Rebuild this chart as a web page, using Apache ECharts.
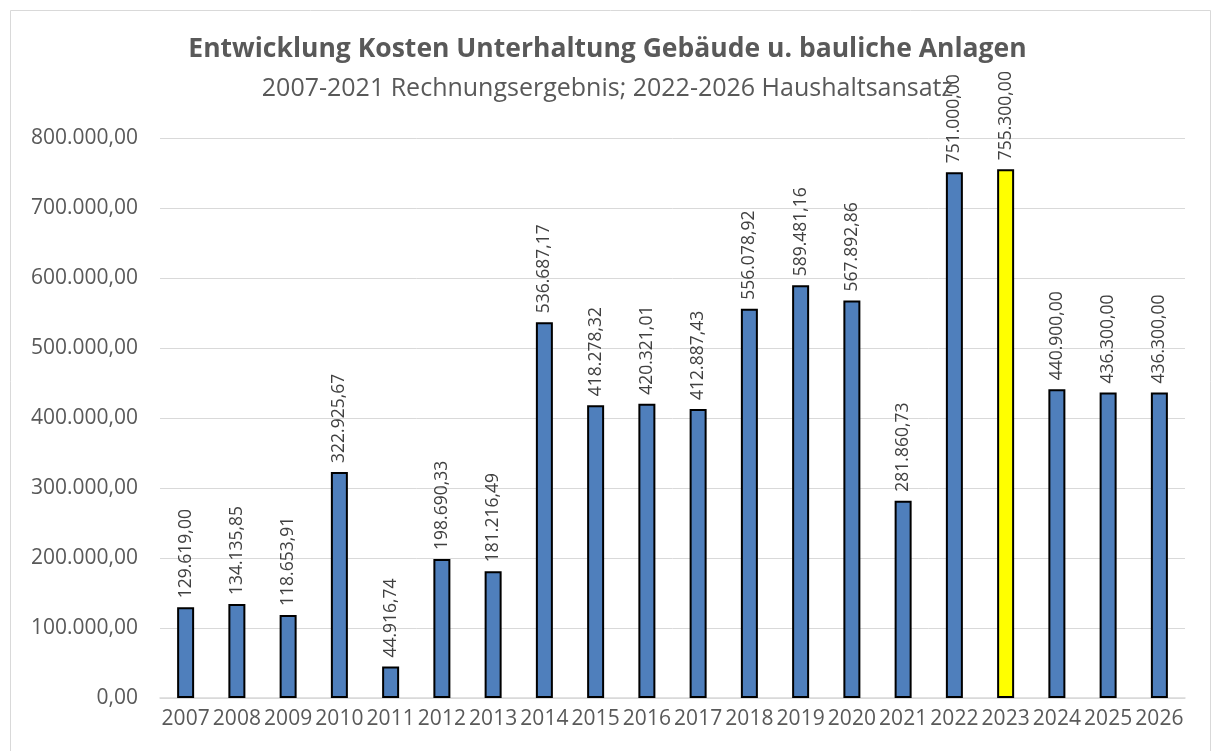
<!DOCTYPE html>
<html>
<head>
<meta charset="utf-8">
<script src="https://cdn.jsdelivr.net/npm/echarts@6/dist/echarts.min.js"></script>
<style>
  html, body { margin: 0; padding: 0; background: #fff; }
  #container { width: 1215px; height: 751px; }
</style>
</head>
<body>
<div id="container"></div>
<script>
var years = ['2007', '2008', '2009', '2010', '2011', '2012', '2013', '2014', '2015', '2016',
  '2017', '2018', '2019', '2020', '2021', '2022', '2023', '2024', '2025', '2026'];
var costs = [129619.00, 134135.85, 118653.91, 322925.67, 44916.74, 198690.33, 181216.49, 536687.17,
  418278.32, 420321.01, 412887.43, 556078.92, 589481.16, 567892.86, 281860.73, 751000.00,
  755300.00, 440900.00, 436300.00, 436300.00];
var highlightYear = '2023';

var dom = document.getElementById("container");
var myChart = echarts.init(dom);

// German number format: 129.619,00
function fmt(v) {
  var parts = v.toFixed(2).split('.');
  var intPart = parts[0].replace(/\B(?=(\d{3})+(?!\d))/g, '.');
  return intPart + ',' + parts[1];
}

var data = costs.map(function (v, i) {
  return {
    value: v,
    itemStyle: { color: years[i] === highlightYear ? '#ffff00' : '#4f7fbc' }
  };
});

var fontFam = '"Open Sans", "Noto Sans", sans-serif';

var option = {
  backgroundColor: '#fff',
  animation: false,
  title: [{
    text: 'Entwicklung Kosten Unterhaltung Gebäude u. bauliche Anlagen',
    left: 'center',
    top: 31,
    textStyle: { fontFamily: fontFam, fontSize: 26.5, fontWeight: 'bold', color: '#595959' }
  }, {
    text: '2007-2021 Rechnungsergebnis; 2022-2026 Haushaltsansatz',
    left: 'center',
    top: 71,
    textStyle: { fontFamily: fontFam, fontSize: 25, fontWeight: 'normal', color: '#595959' }
  }],
  graphic: [{
    type: 'rect',
    shape: { x: 10.5, y: 10.5, width: 1200, height: 745 },
    style: { fill: 'none', stroke: '#d9d9d9', lineWidth: 1 },
    z: -1
  }],
  grid: { left: 160, right: 30, top: 138, bottom: 53 },
  xAxis: {
    type: 'category',
    data: years,
    axisLine: { lineStyle: { color: '#d9d9d9', width: 1.5 } },
    axisTick: { show: false },
    axisLabel: { interval: 0, fontFamily: fontFam, fontSize: 21, color: '#595959', margin: 11 }
  },
  yAxis: {
    type: 'value',
    min: 0,
    max: 800000,
    interval: 100000,
    axisLine: { show: false },
    axisTick: { show: false },
    splitLine: { lineStyle: { color: '#d9d9d9', width: 1 } },
    axisLabel: {
      fontFamily: fontFam, fontSize: 21, color: '#595959', margin: 22,
      formatter: function (v) { return fmt(v); }
    }
  },
  series: [{
    type: 'bar',
    data: data,
    barWidth: 17,
    itemStyle: { borderColor: '#000', borderWidth: 2 },
    label: {
      show: true,
      position: 'top',
      rotate: 90,
      align: 'left',
      verticalAlign: 'middle',
      distance: 9,
      fontFamily: fontFam,
      fontSize: 17.5,
      color: '#404040',
      formatter: function (p) { return fmt(p.value); }
    }
  }]
};

myChart.setOption(option);
</script>
</body>
</html>
